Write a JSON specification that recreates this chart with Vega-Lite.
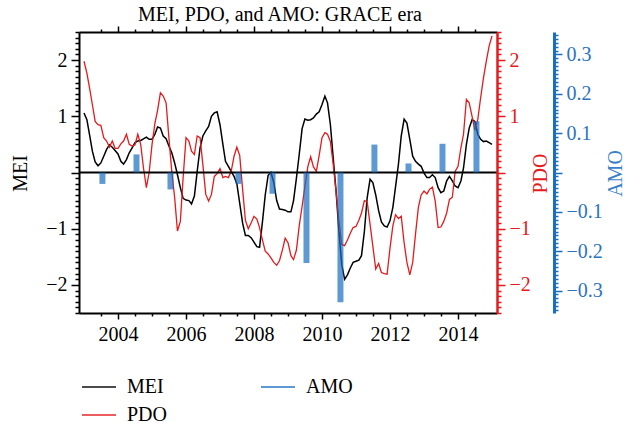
{
  "$schema": "https://vega.github.io/schema/vega-lite/v6.json",
  "width": 418,
  "height": 281,
  "autosize": {"type": "none"},
  "padding": {"left": 79, "top": 32, "right": 129, "bottom": 110},
  "background": "white",
  "config": {
    "font": "Liberation Serif",
    "view": {"stroke": null}
  },
  "title": {
    "text": "MEI, PDO, and AMO: GRACE era",
    "font": "Liberation Serif",
    "fontSize": 20,
    "fontWeight": "normal",
    "color": "black",
    "anchor": "middle",
    "frame": "group",
    "baseline": "alphabetic",
    "offset": 2,
    "dx": -8,
    "dy": 21
  },
  "datasets": {
    "monthly": [
      {"date": "2003-01-01", "MEI": 1.06, "PDO": 1.98},
      {"date": "2003-02-01", "MEI": 0.94, "PDO": 1.77},
      {"date": "2003-03-01", "MEI": 0.68, "PDO": 1.51},
      {"date": "2003-04-01", "MEI": 0.38, "PDO": 1.21},
      {"date": "2003-05-01", "MEI": 0.19, "PDO": 0.91},
      {"date": "2003-06-01", "MEI": 0.12, "PDO": 0.85},
      {"date": "2003-07-01", "MEI": 0.17, "PDO": 0.84},
      {"date": "2003-08-01", "MEI": 0.29, "PDO": 0.62},
      {"date": "2003-09-01", "MEI": 0.41, "PDO": 0.56},
      {"date": "2003-10-01", "MEI": 0.49, "PDO": 0.45},
      {"date": "2003-11-01", "MEI": 0.45, "PDO": 0.56},
      {"date": "2003-12-01", "MEI": 0.39, "PDO": 0.43},
      {"date": "2004-01-01", "MEI": 0.33, "PDO": 0.43},
      {"date": "2004-02-01", "MEI": 0.20, "PDO": 0.51},
      {"date": "2004-03-01", "MEI": 0.15, "PDO": 0.56},
      {"date": "2004-04-01", "MEI": 0.23, "PDO": 0.68},
      {"date": "2004-05-01", "MEI": 0.35, "PDO": 0.50},
      {"date": "2004-06-01", "MEI": 0.44, "PDO": 0.47},
      {"date": "2004-07-01", "MEI": 0.53, "PDO": 0.49},
      {"date": "2004-08-01", "MEI": 0.56, "PDO": 0.68},
      {"date": "2004-09-01", "MEI": 0.57, "PDO": 0.50},
      {"date": "2004-10-01", "MEI": 0.60, "PDO": 0.08},
      {"date": "2004-11-01", "MEI": 0.63, "PDO": -0.27},
      {"date": "2004-12-01", "MEI": 0.59, "PDO": 0.00},
      {"date": "2005-01-01", "MEI": 0.59, "PDO": 0.50},
      {"date": "2005-02-01", "MEI": 0.68, "PDO": 0.88},
      {"date": "2005-03-01", "MEI": 0.81, "PDO": 1.10},
      {"date": "2005-04-01", "MEI": 0.79, "PDO": 1.42},
      {"date": "2005-05-01", "MEI": 0.65, "PDO": 1.36},
      {"date": "2005-06-01", "MEI": 0.60, "PDO": 1.24},
      {"date": "2005-07-01", "MEI": 0.47, "PDO": 0.62},
      {"date": "2005-08-01", "MEI": 0.35, "PDO": 0.02},
      {"date": "2005-09-01", "MEI": 0.17, "PDO": -0.45},
      {"date": "2005-10-01", "MEI": -0.04, "PDO": -1.04},
      {"date": "2005-11-01", "MEI": -0.27, "PDO": -0.87},
      {"date": "2005-12-01", "MEI": -0.46, "PDO": -0.09},
      {"date": "2006-01-01", "MEI": -0.49, "PDO": 0.62},
      {"date": "2006-02-01", "MEI": -0.50, "PDO": 0.56},
      {"date": "2006-03-01", "MEI": -0.56, "PDO": 0.38},
      {"date": "2006-04-01", "MEI": -0.42, "PDO": 0.32},
      {"date": "2006-05-01", "MEI": 0.02, "PDO": 0.65},
      {"date": "2006-06-01", "MEI": 0.44, "PDO": 0.62},
      {"date": "2006-07-01", "MEI": 0.65, "PDO": 0.14},
      {"date": "2006-08-01", "MEI": 0.74, "PDO": -0.39},
      {"date": "2006-09-01", "MEI": 0.82, "PDO": -0.51},
      {"date": "2006-10-01", "MEI": 1.00, "PDO": -0.39},
      {"date": "2006-11-01", "MEI": 1.06, "PDO": -0.07},
      {"date": "2006-12-01", "MEI": 1.08, "PDO": -0.02},
      {"date": "2007-01-01", "MEI": 0.85, "PDO": 0.07},
      {"date": "2007-02-01", "MEI": 0.50, "PDO": -0.09},
      {"date": "2007-03-01", "MEI": 0.20, "PDO": -0.07},
      {"date": "2007-04-01", "MEI": 0.11, "PDO": -0.09},
      {"date": "2007-05-01", "MEI": 0.02, "PDO": 0.02},
      {"date": "2007-06-01", "MEI": -0.07, "PDO": 0.29},
      {"date": "2007-07-01", "MEI": -0.20, "PDO": 0.45},
      {"date": "2007-08-01", "MEI": -0.55, "PDO": 0.30},
      {"date": "2007-09-01", "MEI": -0.90, "PDO": -0.30},
      {"date": "2007-10-01", "MEI": -1.12, "PDO": -0.85},
      {"date": "2007-11-01", "MEI": -1.12, "PDO": -1.00},
      {"date": "2007-12-01", "MEI": -1.16, "PDO": -0.90},
      {"date": "2008-01-01", "MEI": -1.24, "PDO": -0.78},
      {"date": "2008-02-01", "MEI": -1.32, "PDO": -0.83},
      {"date": "2008-03-01", "MEI": -1.33, "PDO": -0.98},
      {"date": "2008-04-01", "MEI": -0.88, "PDO": -1.20},
      {"date": "2008-05-01", "MEI": -0.40, "PDO": -1.40},
      {"date": "2008-06-01", "MEI": -0.05, "PDO": -1.45},
      {"date": "2008-07-01", "MEI": 0.00, "PDO": -1.52},
      {"date": "2008-08-01", "MEI": -0.18, "PDO": -1.60},
      {"date": "2008-09-01", "MEI": -0.50, "PDO": -1.65},
      {"date": "2008-10-01", "MEI": -0.65, "PDO": -1.57},
      {"date": "2008-11-01", "MEI": -0.66, "PDO": -1.38},
      {"date": "2008-12-01", "MEI": -0.67, "PDO": -1.17},
      {"date": "2009-01-01", "MEI": -0.70, "PDO": -1.25},
      {"date": "2009-02-01", "MEI": -0.70, "PDO": -1.48},
      {"date": "2009-03-01", "MEI": -0.50, "PDO": -1.55},
      {"date": "2009-04-01", "MEI": -0.10, "PDO": -1.38},
      {"date": "2009-05-01", "MEI": 0.32, "PDO": -0.95},
      {"date": "2009-06-01", "MEI": 0.78, "PDO": -0.60},
      {"date": "2009-07-01", "MEI": 0.95, "PDO": -0.25},
      {"date": "2009-08-01", "MEI": 0.93, "PDO": 0.10},
      {"date": "2009-09-01", "MEI": 0.94, "PDO": 0.28},
      {"date": "2009-10-01", "MEI": 0.97, "PDO": 0.10},
      {"date": "2009-11-01", "MEI": 1.04, "PDO": 0.02},
      {"date": "2009-12-01", "MEI": 1.08, "PDO": 0.30},
      {"date": "2010-01-01", "MEI": 1.21, "PDO": 0.62},
      {"date": "2010-02-01", "MEI": 1.36, "PDO": 0.71},
      {"date": "2010-03-01", "MEI": 1.24, "PDO": 0.68},
      {"date": "2010-04-01", "MEI": 0.85, "PDO": 0.55},
      {"date": "2010-05-01", "MEI": 0.26, "PDO": 0.15},
      {"date": "2010-06-01", "MEI": -0.33, "PDO": -0.35},
      {"date": "2010-07-01", "MEI": -1.04, "PDO": -0.85},
      {"date": "2010-08-01", "MEI": -1.64, "PDO": -1.28},
      {"date": "2010-09-01", "MEI": -1.90, "PDO": -1.30},
      {"date": "2010-10-01", "MEI": -1.82, "PDO": -1.20},
      {"date": "2010-11-01", "MEI": -1.70, "PDO": -1.08},
      {"date": "2010-12-01", "MEI": -1.60, "PDO": -0.98},
      {"date": "2011-01-01", "MEI": -1.58, "PDO": -0.96},
      {"date": "2011-02-01", "MEI": -1.56, "PDO": -0.85},
      {"date": "2011-03-01", "MEI": -1.48, "PDO": -0.72},
      {"date": "2011-04-01", "MEI": -1.05, "PDO": -0.50},
      {"date": "2011-05-01", "MEI": -0.45, "PDO": -0.52},
      {"date": "2011-06-01", "MEI": -0.12, "PDO": -0.92},
      {"date": "2011-07-01", "MEI": -0.18, "PDO": -1.31},
      {"date": "2011-08-01", "MEI": -0.40, "PDO": -1.72},
      {"date": "2011-09-01", "MEI": -0.68, "PDO": -1.62},
      {"date": "2011-10-01", "MEI": -0.88, "PDO": -1.78},
      {"date": "2011-11-01", "MEI": -0.95, "PDO": -1.80},
      {"date": "2011-12-01", "MEI": -0.97, "PDO": -1.81},
      {"date": "2012-01-01", "MEI": -0.86, "PDO": -1.35},
      {"date": "2012-02-01", "MEI": -0.62, "PDO": -0.95},
      {"date": "2012-03-01", "MEI": -0.25, "PDO": -0.75},
      {"date": "2012-04-01", "MEI": 0.15, "PDO": -0.82},
      {"date": "2012-05-01", "MEI": 0.65, "PDO": -0.78},
      {"date": "2012-06-01", "MEI": 0.95, "PDO": -1.25},
      {"date": "2012-07-01", "MEI": 0.88, "PDO": -1.60},
      {"date": "2012-08-01", "MEI": 0.59, "PDO": -1.82},
      {"date": "2012-09-01", "MEI": 0.29, "PDO": -1.60},
      {"date": "2012-10-01", "MEI": 0.20, "PDO": -1.10},
      {"date": "2012-11-01", "MEI": 0.15, "PDO": -0.62},
      {"date": "2012-12-01", "MEI": 0.11, "PDO": -0.40},
      {"date": "2013-01-01", "MEI": -0.01, "PDO": -0.33},
      {"date": "2013-02-01", "MEI": -0.09, "PDO": -0.38},
      {"date": "2013-03-01", "MEI": -0.09, "PDO": -0.30},
      {"date": "2013-04-01", "MEI": -0.04, "PDO": -0.26},
      {"date": "2013-05-01", "MEI": -0.09, "PDO": -0.51},
      {"date": "2013-06-01", "MEI": -0.27, "PDO": -0.98},
      {"date": "2013-07-01", "MEI": -0.36, "PDO": -0.97},
      {"date": "2013-08-01", "MEI": -0.33, "PDO": -0.87},
      {"date": "2013-09-01", "MEI": -0.15, "PDO": -0.72},
      {"date": "2013-10-01", "MEI": -0.07, "PDO": -0.48},
      {"date": "2013-11-01", "MEI": -0.15, "PDO": -0.44},
      {"date": "2013-12-01", "MEI": -0.24, "PDO": 0.02},
      {"date": "2014-01-01", "MEI": -0.27, "PDO": 0.11},
      {"date": "2014-02-01", "MEI": -0.15, "PDO": 0.44},
      {"date": "2014-03-01", "MEI": 0.08, "PDO": 0.68},
      {"date": "2014-04-01", "MEI": 0.50, "PDO": 1.30},
      {"date": "2014-05-01", "MEI": 0.79, "PDO": 1.24},
      {"date": "2014-06-01", "MEI": 0.94, "PDO": 1.00},
      {"date": "2014-07-01", "MEI": 0.91, "PDO": 0.75},
      {"date": "2014-08-01", "MEI": 0.68, "PDO": 0.94},
      {"date": "2014-09-01", "MEI": 0.59, "PDO": 1.33},
      {"date": "2014-10-01", "MEI": 0.55, "PDO": 1.68},
      {"date": "2014-11-01", "MEI": 0.56, "PDO": 1.98},
      {"date": "2014-12-01", "MEI": 0.53, "PDO": 2.25},
      {"date": "2015-01-01", "MEI": 0.50, "PDO": 2.43}
    ],
    "amo": [
      {"date": "2003-07-18", "AMO": -0.029},
      {"date": "2004-07-18", "AMO": 0.046},
      {"date": "2005-07-18", "AMO": -0.043},
      {"date": "2006-07-18", "AMO": 0.0},
      {"date": "2007-07-18", "AMO": -0.029},
      {"date": "2008-07-18", "AMO": -0.054},
      {"date": "2009-07-18", "AMO": -0.230},
      {"date": "2010-07-18", "AMO": -0.330},
      {"date": "2011-07-18", "AMO": 0.071},
      {"date": "2012-07-18", "AMO": 0.023},
      {"date": "2013-07-18", "AMO": 0.073},
      {"date": "2014-07-18", "AMO": 0.130}
    ]
  },
  "layer": [
    {
      "data": {"name": "monthly"},
      "mark": {"type": "line", "strokeWidth": 1.5},
      "encoding": {
        "x": {
          "field": "date", "type": "temporal",
          "scale": {"type": "utc", "nice": false, "domain": [{"year": 2003, "month": 1, "date": 1, "utc": true}, {"year": 2015, "month": 1, "date": 1, "utc": true}]},
          "axis": {
            "orient": "bottom", "title": null, "grid": false, "zindex": 1,
            "values": [{"year": 2003, "month": 7, "date": 1, "utc": true}, {"year": 2004, "month": 1, "date": 1, "utc": true}, {"year": 2004, "month": 7, "date": 1, "utc": true}, {"year": 2005, "month": 1, "date": 1, "utc": true}, {"year": 2005, "month": 7, "date": 1, "utc": true}, {"year": 2006, "month": 1, "date": 1, "utc": true}, {"year": 2006, "month": 7, "date": 1, "utc": true}, {"year": 2007, "month": 1, "date": 1, "utc": true}, {"year": 2007, "month": 7, "date": 1, "utc": true}, {"year": 2008, "month": 1, "date": 1, "utc": true}, {"year": 2008, "month": 7, "date": 1, "utc": true}, {"year": 2009, "month": 1, "date": 1, "utc": true}, {"year": 2009, "month": 7, "date": 1, "utc": true}, {"year": 2010, "month": 1, "date": 1, "utc": true}, {"year": 2010, "month": 7, "date": 1, "utc": true}, {"year": 2011, "month": 1, "date": 1, "utc": true}, {"year": 2011, "month": 7, "date": 1, "utc": true}, {"year": 2012, "month": 1, "date": 1, "utc": true}, {"year": 2012, "month": 7, "date": 1, "utc": true}, {"year": 2013, "month": 1, "date": 1, "utc": true}, {"year": 2013, "month": 7, "date": 1, "utc": true}, {"year": 2014, "month": 1, "date": 1, "utc": true}, {"year": 2014, "month": 7, "date": 1, "utc": true}],
            "labelExpr": "utcmonth(datum.value) == 0 && utcyear(datum.value) % 2 == 0 ? utcFormat(datum.value, '%Y') : ''",
            "tickSize": {"condition": {"test": "utcmonth(datum.value) == 0 && utcyear(datum.value) % 2 == 0", "value": 6}, "value": 3},
            "tickColor": "black", "tickWidth": 1.5,
            "domainColor": "black", "domainWidth": 2,
            "labelFont": "Liberation Serif", "labelFontSize": 20, "labelColor": "black", "labelPadding": 5,
            "labelOverlap": false, "labelFlush": false
          }
        },
        "y": {
          "field": "MEI", "type": "quantitative",
          "scale": {"domain": [-2.5, 2.5], "nice": false, "zero": false},
          "axis": {
            "orient": "left", "grid": false, "zindex": 1,
            "values": [-2.5, -2.4, -2.3, -2.2, -2.1, -2, -1.9, -1.8, -1.7, -1.6, -1.5, -1.4, -1.3, -1.2, -1.1, -1, -0.9, -0.8, -0.7, -0.6, -0.5, -0.4, -0.3, -0.2, -0.1, 0, 0.1, 0.2, 0.3, 0.4, 0.5, 0.6, 0.7, 0.8, 0.9, 1, 1.1, 1.2, 1.3, 1.4, 1.5, 1.6, 1.7, 1.8, 1.9, 2, 2.1, 2.2, 2.3, 2.4, 2.5],
            "labelExpr": "abs(datum.value - round(datum.value)) < 0.01 && abs(datum.value) > 0.01 ? format(datum.value, 'd') : ''",
            "tickSize": {"condition": {"test": "abs(datum.value - round(datum.value)) < 0.01", "value": 8}, "value": 4},
            "tickColor": "black", "tickWidth": 1.5,
            "domainColor": "black", "domainWidth": 2,
            "labelFont": "Liberation Serif", "labelFontSize": 20, "labelColor": "black", "labelPadding": 4,
            "labelOverlap": false, "labelFlush": false,
            "title": "MEI", "titleFont": "Liberation Serif", "titleFontSize": 20, "titleFontWeight": "normal", "titleColor": "black",
            "titleAngle": -90, "titleX": -59, "titleY": 141, "titleAlign": "center", "titleBaseline": "middle"
          }
        },
        "color": {
          "datum": "MEI", "type": "nominal",
          "scale": {"domain": ["MEI", "AMO", "PDO"], "range": ["#000000", "#1a6ec0", "#e41a1c"]},
          "legend": {
            "orient": "none", "legendX": 2, "legendY": 337, "columns": 2, "title": null,
            "values": ["MEI", "PDO", "AMO"],
            "symbolType": "stroke", "symbolSize": 1156, "symbolStrokeWidth": 2, "symbolOpacity": 1,
            "labelFont": "Liberation Serif", "labelFontSize": 20, "labelColor": "black", "labelOffset": 10,
            "columnPadding": 89, "rowPadding": 0
          }
        }
      }
    },
    {
      "data": {"name": "monthly"},
      "mark": {"type": "line", "strokeWidth": 1.3},
      "encoding": {
        "x": {
          "field": "date", "type": "temporal",
          "axis": {
            "orient": "top", "title": null, "grid": false, "zindex": 1, "labels": false,
            "values": [{"year": 2003, "month": 7, "date": 1, "utc": true}, {"year": 2004, "month": 1, "date": 1, "utc": true}, {"year": 2004, "month": 7, "date": 1, "utc": true}, {"year": 2005, "month": 1, "date": 1, "utc": true}, {"year": 2005, "month": 7, "date": 1, "utc": true}, {"year": 2006, "month": 1, "date": 1, "utc": true}, {"year": 2006, "month": 7, "date": 1, "utc": true}, {"year": 2007, "month": 1, "date": 1, "utc": true}, {"year": 2007, "month": 7, "date": 1, "utc": true}, {"year": 2008, "month": 1, "date": 1, "utc": true}, {"year": 2008, "month": 7, "date": 1, "utc": true}, {"year": 2009, "month": 1, "date": 1, "utc": true}, {"year": 2009, "month": 7, "date": 1, "utc": true}, {"year": 2010, "month": 1, "date": 1, "utc": true}, {"year": 2010, "month": 7, "date": 1, "utc": true}, {"year": 2011, "month": 1, "date": 1, "utc": true}, {"year": 2011, "month": 7, "date": 1, "utc": true}, {"year": 2012, "month": 1, "date": 1, "utc": true}, {"year": 2012, "month": 7, "date": 1, "utc": true}, {"year": 2013, "month": 1, "date": 1, "utc": true}, {"year": 2013, "month": 7, "date": 1, "utc": true}, {"year": 2014, "month": 1, "date": 1, "utc": true}, {"year": 2014, "month": 7, "date": 1, "utc": true}],
            "tickSize": {"condition": {"test": "utcmonth(datum.value) == 0 && utcyear(datum.value) % 2 == 0", "value": 6}, "value": 3},
            "tickColor": "black", "tickWidth": 1.5,
            "domainColor": "black", "domainWidth": 2
          }
        },
        "y": {
          "field": "PDO", "type": "quantitative",
          "scale": {"domain": [-2.5, 2.5], "nice": false, "zero": false},
          "axis": {
            "orient": "right", "grid": false, "zindex": 1,
            "values": [-2.5, -2.4, -2.3, -2.2, -2.1, -2, -1.9, -1.8, -1.7, -1.6, -1.5, -1.4, -1.3, -1.2, -1.1, -1, -0.9, -0.8, -0.7, -0.6, -0.5, -0.4, -0.3, -0.2, -0.1, 0, 0.1, 0.2, 0.3, 0.4, 0.5, 0.6, 0.7, 0.8, 0.9, 1, 1.1, 1.2, 1.3, 1.4, 1.5, 1.6, 1.7, 1.8, 1.9, 2, 2.1, 2.2, 2.3, 2.4, 2.5],
            "labelExpr": "abs(datum.value - round(datum.value)) < 0.01 && abs(datum.value) > 0.01 ? format(datum.value, 'd') : ''",
            "tickSize": {"condition": {"test": "abs(datum.value - round(datum.value)) < 0.01", "value": 8}, "value": 4},
            "tickColor": "#e41a1c", "tickWidth": 1.5,
            "domainColor": "#e41a1c", "domainWidth": 2.5,
            "labelFont": "Liberation Serif", "labelFontSize": 20, "labelColor": "#e41a1c", "labelPadding": 4,
            "labelOverlap": false, "labelFlush": false,
            "title": "PDO", "titleFont": "Liberation Serif", "titleFontSize": 20, "titleFontWeight": "normal", "titleColor": "#e41a1c",
            "titleAngle": -90, "titleX": 43, "titleY": 141, "titleAlign": "center", "titleBaseline": "middle"
          }
        },
        "color": {"datum": "PDO", "type": "nominal"}
      }
    },
    {
      "data": {"values": [{}]},
      "mark": {"type": "rule", "color": "black", "strokeWidth": 2},
      "encoding": {
        "y": {"datum": 0, "type": "quantitative", "scale": {"domain": [-2.5, 2.5], "nice": false, "zero": false}, "axis": null}
      }
    },
    {
      "data": {"name": "amo"},
      "mark": {"type": "bar", "size": 6, "opacity": 0.7},
      "encoding": {
        "x": {"field": "date", "type": "temporal", "axis": null},
        "y": {
          "field": "AMO", "type": "quantitative",
          "scale": {"domain": [-0.3571, 0.3571], "nice": false, "zero": true},
          "axis": {
            "orient": "right", "offset": 57, "grid": false, "zindex": 1,
            "values": [-0.35, -0.34, -0.33, -0.32, -0.31, -0.3, -0.29, -0.28, -0.27, -0.26, -0.25, -0.24, -0.23, -0.22, -0.21, -0.2, -0.19, -0.18, -0.17, -0.16, -0.15, -0.14, -0.13, -0.12, -0.11, -0.1, -0.09, -0.08, -0.07, -0.06, -0.05, -0.04, -0.03, -0.02, -0.01, 0, 0.01, 0.02, 0.03, 0.04, 0.05, 0.06, 0.07, 0.08, 0.09, 0.1, 0.11, 0.12, 0.13, 0.14, 0.15, 0.16, 0.17, 0.18, 0.19, 0.2, 0.21, 0.22, 0.23, 0.24, 0.25, 0.26, 0.27, 0.28, 0.29, 0.3, 0.31, 0.32, 0.33, 0.34, 0.35],
            "labelExpr": "abs(datum.value * 10 - round(datum.value * 10)) < 0.01 && abs(datum.value) > 0.001 ? format(datum.value, '.1f') : ''",
            "tickSize": {"condition": {"test": "abs(datum.value * 10 - round(datum.value * 10)) < 0.01", "value": 8}, "value": 4},
            "tickColor": "#1a6ec0", "tickWidth": 1.5,
            "domainColor": "#1a6ec0", "domainWidth": 3,
            "labelFont": "Liberation Serif", "labelFontSize": 20, "labelColor": "#2a73c0", "labelPadding": 4,
            "labelOverlap": false, "labelFlush": false,
            "title": "AMO", "titleFont": "Liberation Serif", "titleFontSize": 20, "titleFontWeight": "normal", "titleColor": "#3a7fc6",
            "titleAngle": -90, "titleX": 61, "titleY": 141, "titleAlign": "center", "titleBaseline": "middle"
          }
        },
        "color": {"datum": "AMO", "type": "nominal"}
      }
    }
  ],
  "resolve": {
    "scale": {"y": "independent"},
    "axis": {"x": "independent", "y": "independent"}
  }
}
